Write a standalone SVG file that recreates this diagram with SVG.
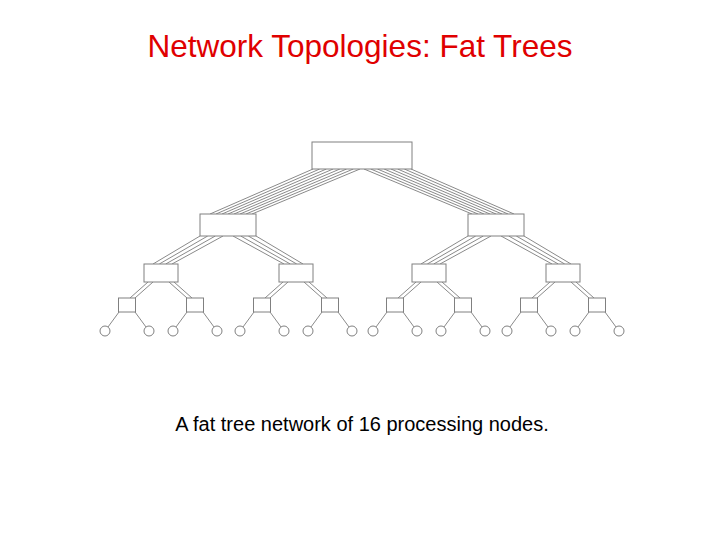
<svg xmlns="http://www.w3.org/2000/svg" xmlns:xlink="http://www.w3.org/1999/xlink" width="720" height="540" viewBox="0 0 720 540">
<style>
.n{fill:#fff;stroke:#808080;stroke-width:1}
.c line,.s line{stroke:#8a8a8a;stroke-width:1}
.t{font-family:"Liberation Sans",Arial,sans-serif;text-anchor:middle}
</style>
<defs>
<g id="sub" class="s" stroke="#8a8a8a">
<line x1="-13" y1="282" x2="-31" y2="298"/><line x1="-8" y1="282" x2="-26" y2="298"/>
<line x1="13" y1="282" x2="31" y2="298"/><line x1="8" y1="282" x2="26" y2="298"/>
<line x1="-42" y1="312" x2="-53" y2="327"/><line x1="-26" y1="312" x2="-15" y2="327"/>
<line x1="26" y1="312" x2="15" y2="327"/><line x1="42" y1="312" x2="53" y2="327"/>
</g>
<g id="sub4" fill="#fff" stroke="#808080">
<rect x="-42.5" y="298" width="17" height="14"/>
<rect x="25.5" y="298" width="17" height="14"/>
<circle cx="-56" cy="331" r="5"/><circle cx="-12" cy="331" r="5"/>
<circle cx="12" cy="331" r="5"/><circle cx="56" cy="331" r="5"/>
</g>
</defs>
<rect width="720" height="540" fill="#fff"/>
<text class="t" x="360" y="57" font-size="31.5" fill="#e00000">Network Topologies: Fat Trees</text>
<g class="c" id="connectors">
<line x1="313" y1="169" x2="210" y2="214"/><line x1="319.7" y1="169" x2="216" y2="214"/><line x1="326.4" y1="169" x2="222" y2="214"/><line x1="333.1" y1="169" x2="228" y2="214"/><line x1="339.9" y1="169" x2="234" y2="214"/><line x1="346.6" y1="169" x2="240" y2="214"/><line x1="353.3" y1="169" x2="246" y2="214"/><line x1="360" y1="169" x2="252" y2="214"/>
<line x1="411" y1="169" x2="514" y2="214"/><line x1="404.3" y1="169" x2="508" y2="214"/><line x1="397.6" y1="169" x2="502" y2="214"/><line x1="390.9" y1="169" x2="496" y2="214"/><line x1="384.1" y1="169" x2="490" y2="214"/><line x1="377.4" y1="169" x2="484" y2="214"/><line x1="370.7" y1="169" x2="478" y2="214"/><line x1="364" y1="169" x2="472" y2="214"/>
<line x1="200" y1="236" x2="153" y2="264"/><line x1="207.7" y1="236" x2="159.3" y2="264"/><line x1="215.3" y1="236" x2="165.7" y2="264"/><line x1="223" y1="236" x2="172" y2="264"/>
<line x1="233" y1="236" x2="284" y2="264"/><line x1="240.7" y1="236" x2="290.3" y2="264"/><line x1="248.3" y1="236" x2="296.7" y2="264"/><line x1="256" y1="236" x2="303" y2="264"/>
<line x1="468" y1="236" x2="421" y2="264"/><line x1="475.7" y1="236" x2="427.3" y2="264"/><line x1="483.3" y1="236" x2="433.7" y2="264"/><line x1="491" y1="236" x2="440" y2="264"/>
<line x1="501" y1="236" x2="552" y2="264"/><line x1="508.7" y1="236" x2="558.3" y2="264"/><line x1="516.3" y1="236" x2="564.7" y2="264"/><line x1="524" y1="236" x2="571" y2="264"/>
<use xlink:href="#sub" transform="translate(161,0)"/>
<use xlink:href="#sub" transform="translate(296,0)"/>
<use xlink:href="#sub" transform="translate(429,0)"/>
<use xlink:href="#sub" transform="translate(563,0)"/>
</g>
<g id="root"><rect class="n" x="312" y="142" width="100" height="27"/></g>
<g id="switch-l2-a"><rect class="n" x="200" y="214" width="56" height="22"/></g>
<g id="switch-l2-b"><rect class="n" x="468" y="214" width="56" height="22"/></g>
<g id="switch-l3-a"><rect class="n" x="144" y="264" width="34" height="18"/></g>
<g id="switch-l3-b"><rect class="n" x="279" y="264" width="34" height="18"/></g>
<g id="switch-l3-c"><rect class="n" x="412" y="264" width="34" height="18"/></g>
<g id="switch-l3-d"><rect class="n" x="546" y="264" width="34" height="18"/></g>
<g id="sub-a"><use xlink:href="#sub4" transform="translate(161,0)"/></g>
<g id="sub-b"><use xlink:href="#sub4" transform="translate(296,0)"/></g>
<g id="sub-c"><use xlink:href="#sub4" transform="translate(429,0)"/></g>
<g id="sub-d"><use xlink:href="#sub4" transform="translate(563,0)"/></g>
<text class="t" x="362" y="431" font-size="20" fill="#000">A fat tree network of 16 processing nodes.</text>
</svg>
